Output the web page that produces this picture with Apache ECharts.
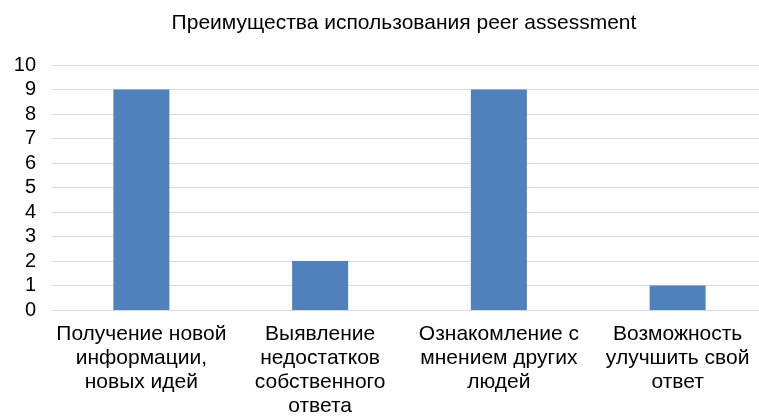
<!DOCTYPE html>
<html>
<head>
<meta charset="utf-8">
<script src="https://cdn.jsdelivr.net/npm/echarts@6/dist/echarts.min.js"></script>
<style>
  html, body { margin: 0; padding: 0; background: #fff; }
  #chart { width: 759px; height: 417px; }
</style>
</head>
<body>
<div id="chart"></div>
<script>
const categories = [
  'Получение новой\nинформации,\nновых идей',
  'Выявление\nнедостатков\nсобственного\nответа',
  'Ознакомление с\nмнением других\nлюдей',
  'Возможность\nулучшить свой\nответ'
];
const values = [9, 2, 9, 1];
const titleText = 'Преимущества использования peer assessment';

const chart = echarts.init(document.getElementById('chart'));
chart.setOption({
  animation: false,
  textStyle: { fontFamily: 'Liberation Sans, Arial, sans-serif' },
  title: {
    text: titleText,
    left: 399,
    textAlign: 'center',
    top: 8,
    textStyle: { fontSize: 21, fontWeight: 'normal', color: '#000' }
  },
  grid: { left: 52, top: 65, width: 715, height: 245, containLabel: false, outerBoundsMode: 'none' },
  xAxis: {
    type: 'category',
    data: categories,
    axisLine: { lineStyle: { color: '#D9D9D9', width: 1 } },
    axisTick: { show: false },
    axisLabel: { color: '#000', fontSize: 21, lineHeight: 24, margin: 12, interval: 0 }
  },
  yAxis: {
    type: 'value',
    min: 0,
    max: 10,
    interval: 1,
    axisLine: { show: false },
    axisTick: { show: false },
    splitLine: { lineStyle: { color: '#D9D9D9', width: 1 } },
    axisLabel: { color: '#000', fontSize: 20, margin: 16 }
  },
  series: [{
    type: 'bar',
    data: values,
    barWidth: 56,
    itemStyle: { color: '#4F81BD' }
  }]
});
</script>
</body>
</html>
